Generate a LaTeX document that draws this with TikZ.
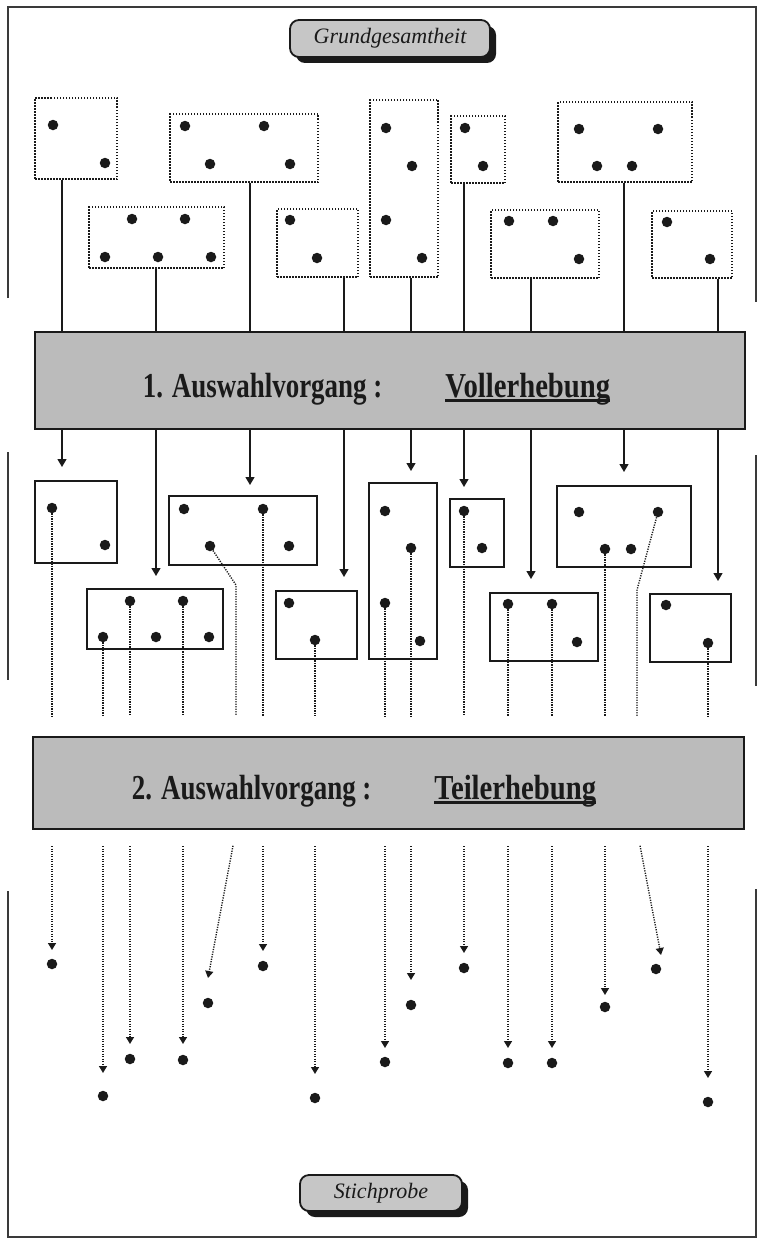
\documentclass[tikz,border=0pt]{standalone}
\usepackage{fontspec}
\setmainfont{Liberation Serif}
\usepackage{graphicx}
\usetikzlibrary{arrows.meta,fit,shadows,backgrounds}
\definecolor{ink}{HTML}{1A1A1A}
\definecolor{stipple}{HTML}{BBBBBB}
\definecolor{pillgray}{HTML}{C6C6C6}
\definecolor{framegray}{HTML}{3A3A3A}
\newcommand{\unterstrich}[1]{\setbox0\hbox{#1}\rlap{\raisebox{-4.5pt}{\rule{\wd0}{2.8pt}}}\box0}
\tikzset{
  dotbox/.style={draw=ink,line width=1.5pt,dash pattern=on 1.5pt off 1.5pt,inner sep=0pt},
  solidbox/.style={draw=ink,line width=1.6pt,inner sep=0pt},
  dot/.style={circle,fill=ink,minimum size=10.5pt,inner sep=0pt},
  band/.style={draw=ink,line width=2pt,fill=stipple,minimum width=710pt,minimum height=97pt,inner sep=0pt,text=ink,font=\fontsize{35}{38}\selectfont\bfseries,text height=37pt,text depth=4pt},
  pill/.style={draw=ink,line width=1.8pt,fill=pillgray,rounded corners=9pt,text=ink,font=\fontsize{22}{24}\selectfont\itshape,drop shadow={shadow xshift=6pt,shadow yshift=-6pt,fill=ink,opacity=1}},
  link/.style={draw=ink,line width=1.3pt},
  arrow/.style={link,-{Triangle[length=8pt,width=9pt]}},
  pick/.style={draw=ink,line width=1.4pt,dash pattern=on 1.2pt off 1.3pt},
  pickarrow/.style={pick,-{Triangle[length=7pt,width=8pt]}},
  frame/.style={draw=framegray,line width=2pt},
}
\begin{document}
\begin{tikzpicture}[x=1pt,y=-1pt]
  \useasboundingbox (0,0) rectangle (762,1247);
  % Rahmen
  \draw[frame] (8,298) -- (8,7) -- (756,7) -- (756,302);
  \draw[frame] (8,452) -- (8,680) (756,455) -- (756,686);
  \draw[frame] (8,891) -- (8,1237) -- (756,1237) -- (756,889);

  \node[pill,minimum width=200pt,minimum height=37pt] (gg) at (390,38.5) {Grundgesamtheit};
  \node[pill,minimum width=162pt,minimum height=36pt] (sp) at (381,1193) {Stichprobe};

  % Teilgesamtheiten vor der Vollerhebung
  \node[dotbox,fit={(35,98) (117,179)}] (tA) {};
  \node[dotbox,fit={(170,114) (318,182)}] (tB) {};
  \node[dotbox,fit={(370,100) (438,277)}] (tC) {};
  \node[dotbox,fit={(451,116) (505,183)}] (tD) {};
  \node[dotbox,fit={(558,102) (692,182)}] (tE) {};
  \node[dotbox,fit={(89,207) (224,268)}] (tF) {};
  \node[dotbox,fit={(277,209) (358,277)}] (tG) {};
  \node[dotbox,fit={(491,210) (599,278)}] (tH) {};
  \node[dotbox,fit={(652,211) (732,278)}] (tI) {};
  \foreach \n/\x/\y in {tA1/53/125,tA2/105/163,tB1/185/126,tB2/264/126,tB3/210/164,tB4/290/164,
      tC1/386/128,tC2/412/166,tC3/386/220,tC4/422/258,tD1/465/128,tD2/483/166,
      tE1/579/129,tE2/658/129,tE3/597/166,tE4/632/166,
      tF1/132/219,tF2/185/219,tF3/105/257,tF4/158/257,tF5/211/257,
      tG1/290/220,tG2/317/258,tH1/509/221,tH2/553/221,tH3/579/259,tI1/667/222,tI2/710/259}
    \node[dot] (\n) at (\x,\y) {};

  % nach der Vollerhebung
  \node[solidbox,fit={(35,481) (117,563)}] (sA) {};
  \node[solidbox,fit={(169,496) (317,565)}] (sB) {};
  \node[solidbox,fit={(369,483) (437,659)}] (sC) {};
  \node[solidbox,fit={(450,499) (504,567)}] (sD) {};
  \node[solidbox,fit={(557,486) (691,567)}] (sE) {};
  \node[solidbox,fit={(87,589) (223,649)}] (sF) {};
  \node[solidbox,fit={(276,591) (357,659)}] (sG) {};
  \node[solidbox,fit={(490,593) (598,661)}] (sH) {};
  \node[solidbox,fit={(650,594) (731,662)}] (sI) {};
  \foreach \n/\x/\y in {sA1/52/508,sA2/105/545,sB1/184/509,sB2/263/509,sB3/210/546,sB4/289/546,
      sC1/385/511,sC2/411/548,sC3/385/603,sC4/420/641,sD1/464/511,sD2/482/548,
      sE1/579/512,sE2/658/512,sE3/605/549,sE4/631/549,
      sF1/130/601,sF2/183/601,sF3/103/637,sF4/156/637,sF5/209/637,
      sG1/289/603,sG2/315/640,sH1/508/604,sH2/552/604,sH3/577/642,sI1/666/605,sI2/708/643}
    \node[dot] (\n) at (\x,\y) {};

  \node[band] (band1) at (390,380.5) {\scalebox{0.77}[1]{1. Auswahlvorgang :}\hspace{63pt}\scalebox{0.82}[1]{\unterstrich{Vollerhebung}}\hspace*{27pt}};
  \node[band,minimum width=711pt,minimum height=92pt] (band2) at (388.5,783) {\scalebox{0.77}[1]{2. Auswahlvorgang :}\hspace{63pt}\scalebox{0.82}[1]{\unterstrich{Teilerhebung}}\hspace*{49pt}};

  \begin{scope}[on background layer]
    \foreach \g/\x/\ty in {tA/62/467,tF/156/576,tB/250/485,tG/344/577,tC/411/471,tD/464/487,tH/531/579,tE/624/472,tI/718/581}{
      \coordinate (h\g) at (\x,\ty);
      \draw[arrow] (\g.south -| h\g) -- (h\g);
    }
  \end{scope}

  % Teilerhebung
  \foreach \s/\x/\ty/\dy in {sA1/52/950/964,sF3/103/1073/1096,sF1/130/1044/1059,sF2/183/1044/1060,
      sB2/263/951/966,sG2/315/1074/1098,sC3/385/1048/1062,sC2/411/980/1005,sD1/464/953/968,
      sH1/508/1048/1063,sH2/552/1048/1063,sE3/605/995/1007,sI2/708/1078/1102}{
    \draw[pick,shorten >=20pt] (\s) -- (\s |- band2.north);
    \coordinate (p\s) at (\x,\ty);
    \draw[pickarrow,shorten <=16pt] (p\s |- band2.south) -- (p\s);
    \node[dot] (e\s) at (\x,\dy) {};
  }
  \coordinate (kB) at (236,585);
  \coordinate (psB3) at (208,978);
  \draw[pick,shorten >=20pt] (sB3) -- (kB) -- (kB |- band2.north);
  \draw[pickarrow,shorten <=16pt] (kB |- band2.south) -- (psB3);
  \node[dot] (esB3) at (208,1003) {};
  \coordinate (kE) at (637,590);
  \coordinate (psE2) at (661,955);
  \draw[pick,shorten >=20pt] (sE2) -- (kE) -- (kE |- band2.north);
  \draw[pickarrow,shorten <=16pt] (kE |- band2.south) -- (psE2);
  \node[dot] (esE2) at (656,969) {};
\end{tikzpicture}
\end{document}
